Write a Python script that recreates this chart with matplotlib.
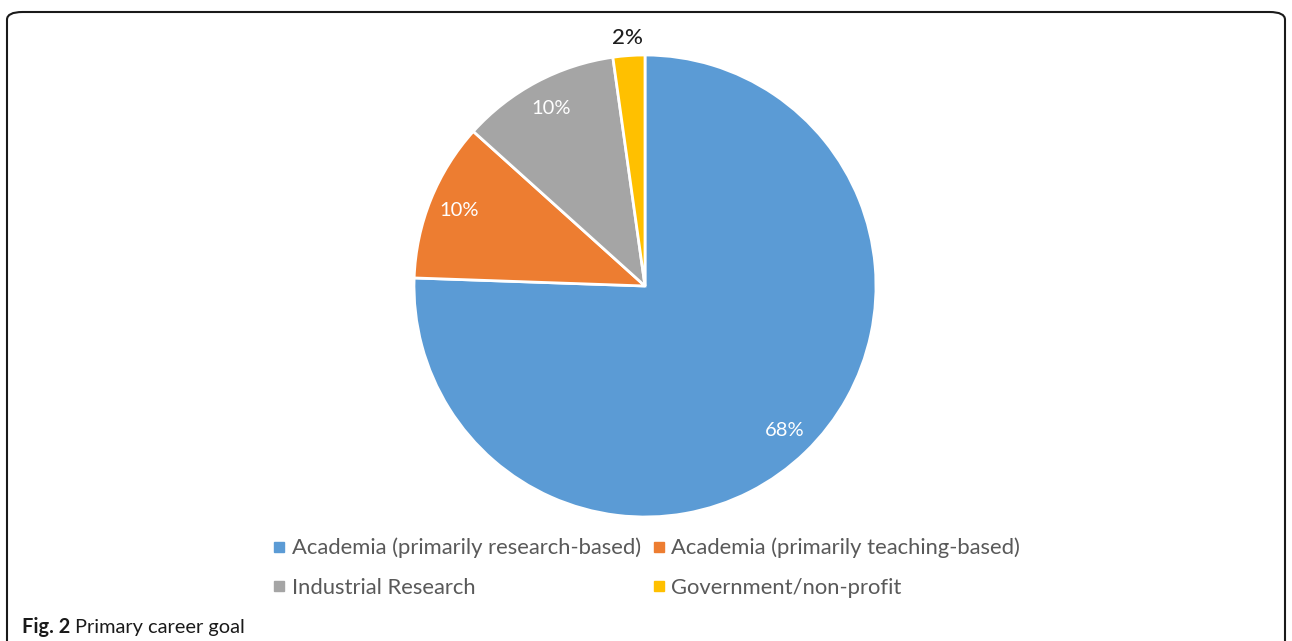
import numpy as np
import matplotlib.pyplot as plt
from matplotlib.patches import FancyBboxPatch
from matplotlib.lines import Line2D

goals = [
    "Academia (primarily research-based)",
    "Academia (primarily teaching-based)",
    "Industrial Research",
    "Government/non-profit",
]
shares = [68, 10, 10, 2]
colors = ["#5B9BD5", "#ED7D31", "#A5A5A5", "#FFC000"]

plt.rcParams["font.family"] = ["Lato", "DejaVu Sans"]

W, H = 1292, 641
fig = plt.figure(figsize=(W / 100, H / 100), dpi=100)

# rounded frame around the panel (bottom runs off the page)
frame = FancyBboxPatch((7 / W, -20 / H), 1278 / W, (H - 12 + 20) / H,
                       boxstyle="round,pad=0,rounding_size=0.012",
                       transform=fig.transFigure, facecolor="none",
                       edgecolor="#1a1a1a", linewidth=1.5, zorder=5)
fig.patches.append(frame)

# pie axes: centre (645, 286) px, radius 231 px
cx, cy, r = 645, 286, 231
ax = fig.add_axes([(cx - r) / W, (H - cy - r) / H, 2 * r / W, 2 * r / H])
wedges, _ = ax.pie(shares, colors=colors, startangle=90, counterclock=False,
                   radius=1.0,
                   wedgeprops=dict(edgecolor="white", linewidth=2))
ax.set_xlim(-1, 1)
ax.set_ylim(-1, 1)
ax.axis("off")

for w, v in zip(wedges, shares):
    mid = np.deg2rad((w.theta1 + w.theta2) / 2)
    if v < 5:
        ax.text(1.075 * np.cos(mid), 1.075 * np.sin(mid), f"{v}%",
                ha="center", va="center", fontsize=16, color="#1f1f1f",
                fontweight="medium", clip_on=False)
    else:
        ax.text(0.87 * np.cos(mid), 0.87 * np.sin(mid), f"{v}%",
                ha="center", va="center", fontsize=14.5, color="white")

# legend, two columns
order = [0, 2, 1, 3]
handles = [Line2D([], [], marker="s", linestyle="none", markersize=7,
                  markerfacecolor=colors[i], markeredgecolor=colors[i])
           for i in order]
fig.legend(handles, [goals[i] for i in order], ncol=2, frameon=False,
           loc="center", bbox_to_anchor=(646 / W, 1 - 568 / H),
           fontsize=15.8, labelcolor="#595959", handletextpad=0.2,
           handlelength=0.7, columnspacing=0.5, labelspacing=0.9)

# caption
renderer = fig.canvas.get_renderer()
t = fig.text(22 / W, 1 - 627 / H, "Fig. 2", fontsize=14.4, fontweight="bold",
             color="#1a1a1a", va="center", ha="left")
bb = t.get_window_extent(renderer=renderer)
fig.text((bb.x1 + 5) / W, 1 - 627 / H, "Primary career goal", fontsize=14.4,
         color="#1a1a1a", va="center", ha="left")

fig.savefig("out.png", dpi=100)
